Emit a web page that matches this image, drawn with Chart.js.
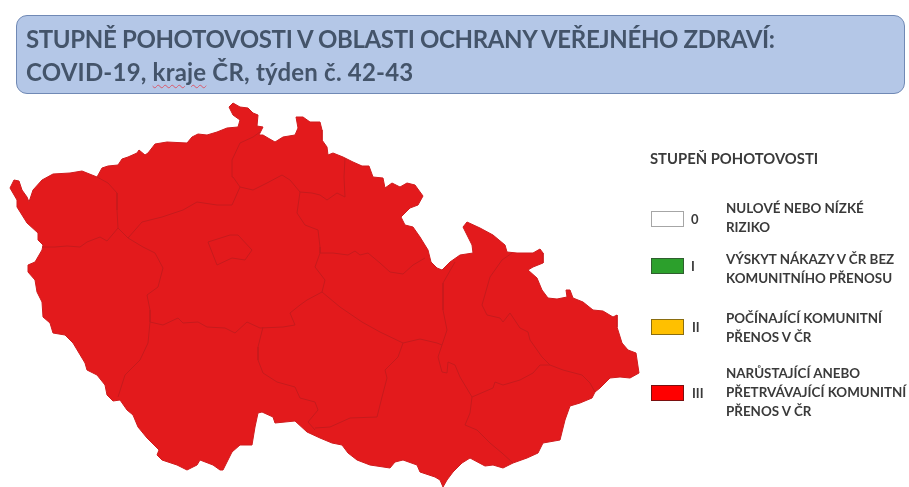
<!DOCTYPE html>
<html lang="cs">
<head>
<meta charset="utf-8">
<title>Stupně pohotovosti</title>
<script src="https://cdn.jsdelivr.net/npm/chart.js@4"></script>
<style>
  html, body { margin: 0; padding: 0; background: #fff; }
  #page { position: relative; width: 909px; height: 487px; overflow: hidden; font-family: Lato, "Open Sans", sans-serif; font-weight: 700; }
  #myChart { position: absolute; left: 0; top: 0; filter: blur(0.6px); }
  #box { position: absolute; left: 16px; top: 15px; width: 887px; height: 77px; background: #b4c7e7; border: 1.5px solid #7089b5; border-radius: 11px; }
  .head { position: absolute; left: 26px; color: #44546a; font-size: 24px; white-space: nowrap; filter: blur(0.6px); }
  .head u { text-decoration: underline wavy #d9586a 1px; text-underline-offset: 3px; }
  .txt { position: absolute; color: #3a3a3a; font-size: 13px; white-space: nowrap; line-height: 14px; filter: blur(0.5px); }
  .swatch { position: absolute; left: 651px; width: 31px; height: 14px; border: 1px solid #444; filter: blur(0.4px); }
</style>
</head>
<body>
<div id="page">
  <canvas id="myChart" width="909" height="487"></canvas>
  <div id="box"></div>
  <div class="head" style="top:24px;letter-spacing:-0.35px">STUPNĚ POHOTOVOSTI V OBLASTI OCHRANY VEŘEJNÉHO ZDRAVÍ:</div>
  <div class="head" style="top:57px;letter-spacing:0.2px">COVID-19, <u>kraje</u> ČR, týden č. 42-43</div>
  <div class="txt" style="left:650px;top:151px;font-size:14.8px">STUPEŇ POHOTOVOSTI</div>
</div>
<script>
// legend
const levels = ["0", "I", "II", "III"];
const levelColors = ["#ffffff", "#2ca02c", "#ffc000", "#ff0000"];
const levelBorders = ["#a6a6a6", "#2f5f2f", "#8a6d10", "#7a1010"];
const levelLabels = [
    ["NULOVÉ NEBO NÍZKÉ", "RIZIKO"],
    ["VÝSKYT NÁKAZY V ČR BEZ", "KOMUNITNÍHO PŘENOSU"],
    ["POČÍNAJÍCÍ KOMUNITNÍ", "PŘENOS V ČR"],
    ["NARŮSTAJÍCÍ ANEBO", "PŘETRVÁVAJÍCÍ KOMUNITNÍ", "PŘENOS V ČR"]
];
const swatchTops = [211, 258, 319, 385];
const labelTops = [199, 250, 309, 364];

// map, in picture pixels
const outline = [
    [10,188],[14,180],[19,181],[22,190],[27,197],[29,202],[33,190],[42,180],[53,174],[70,173],[82,171],[87,173],[97,177],
    [102,168],[108,166],[118,165],[122,159],[128,157],[137,153],[139,150],[145,155],[148,153],[155,144],[167,142],[187,143],
    [192,137],[198,134],[207,135],[217,132],[227,128],[238,127],[240,120],[233,115],[229,107],[233,103],[240,107],[248,108],
    [253,113],[258,115],[257,126],[263,127],[259,135],[263,135],[268,138],[275,142],[283,137],[295,135],[298,128],[296,117],
    [303,117],[310,122],[320,122],[322,130],[322,140],[327,147],[328,155],[333,153],[343,157],[353,162],[362,166],[369,166],
    [373,177],[383,178],[385,188],[392,183],[400,187],[407,183],[415,185],[423,196],[418,205],[410,208],[401,217],[405,225],
    [413,227],[420,237],[428,250],[431,262],[437,268],[442,270],[450,262],[460,255],[473,253],[472,245],[463,227],[467,222],
    [480,228],[493,235],[505,245],[507,252],[517,253],[533,253],[540,249],[543,253],[543,263],[533,267],[528,270],[537,278],
    [542,290],[548,298],[557,299],[567,297],[566,290],[570,290],[573,298],[583,302],[593,310],[603,311],[613,317],[617,315],
    [617,327],[622,343],[628,350],[636,353],[639,373],[630,378],[620,377],[610,378],[600,388],[595,392],[592,398],[580,403],
    [570,406],[565,420],[560,440],[543,443],[538,453],[527,458],[513,463],[503,468],[493,465],[485,466],[470,458],[462,463],
    [453,472],[447,480],[443,487],[440,480],[435,477],[420,472],[417,465],[403,460],[395,462],[390,468],[370,465],[357,460],
    [348,453],[342,445],[332,443],[320,438],[307,432],[295,421],[285,422],[275,423],[273,417],[262,412],[258,413],[255,427],
    [252,445],[240,445],[232,452],[223,470],[220,470],[213,465],[200,460],[197,465],[187,470],[177,465],[162,460],[157,455],
    [159,450],[147,438],[138,427],[133,415],[127,410],[120,400],[113,401],[107,395],[105,385],[97,375],[87,370],[85,363],
    [73,343],[65,335],[53,333],[50,323],[43,317],[42,302],[37,292],[35,280],[28,272],[28,265],[35,262],[42,250],[43,245],
    [38,240],[38,233],[27,223],[17,207],[17,200]
];
const prague = [[208,242],[230,235],[238,235],[252,250],[245,260],[232,258],[217,265],[208,242]];

const borders = [
    // Karlovarský
    [[97,177],[108,183],[117,193],[117,210],[118,228]],
    [[42,247],[55,247],[67,246],[80,247],[87,242],[100,237],[107,241],[118,228]],
    // Ústecký
    [[118,228],[128,238],[142,222],[162,217],[183,210],[197,202],[217,205],[232,205],[240,187]],
    [[240,187],[233,177],[232,160],[240,143],[253,137],[260,132]],
    // Liberecký
    [[240,187],[253,190],[267,183],[282,175],[290,180],[300,192],[312,193],[320,195],[327,200],[337,193],[345,197],[344,177],[345,158]],
    // Středočeský / Královéhradecký
    [[300,192],[297,213],[305,225],[318,230],[320,247],[320,253]],
    // Královéhradecký / Pardubický
    [[320,253],[333,253],[348,255],[355,251],[360,255],[368,253],[380,263],[390,272],[403,274],[413,265],[425,258]],
    // Středočeský / Pardubický
    [[320,253],[315,267],[325,280],[322,292]],
    // Středočeský / Vysočina
    [[322,292],[307,300],[300,305],[290,313],[295,325]],
    // Středočeský / Jihočeský
    [[295,325],[283,327],[260,328],[247,322],[235,333],[225,328],[207,327],[198,322],[183,323],[178,318],[163,325],[150,322]],
    // Plzeňský / Středočeský
    [[128,238],[143,247],[155,253],[163,268],[158,287],[147,295],[150,310],[150,322]],
    // Plzeňský / Jihočeský
    [[150,322],[148,343],[140,360],[125,375],[118,397]],
    // Jihočeský / Vysočina
    [[263,327],[258,347],[258,360],[263,373],[277,382],[295,387],[300,398],[315,402],[318,410],[308,422],[315,430]],
    // Vysočina / Jihomoravský
    [[315,428],[330,427],[350,418],[377,417],[382,397],[387,378],[385,370],[398,357],[403,343]],
    // Pardubický / Vysočina
    [[322,292],[340,307],[362,322],[380,332],[403,343]],
    // Pardubický / Jihomoravský
    [[403,343],[420,339],[437,343]],
    // Pardubický / Olomoucký
    [[455,262],[443,283],[443,310],[447,330],[442,345],[437,343]],
    // Olomoucký / Jihomoravský
    [[442,345],[438,357],[442,372],[447,373],[448,362],[455,365],[460,377],[472,397]],
    // Jihomoravský / Zlínský
    [[472,397],[470,413],[465,425],[477,430],[490,443],[502,453],[513,463]],
    // Olomoucký / Zlínský
    [[472,397],[493,388],[495,382],[503,385],[520,380],[533,373],[540,365],[550,365]],
    // Moravskoslezský / Zlínský
    [[550,365],[563,370],[582,375],[590,383],[595,392]],
    // Olomoucký / Moravskoslezský
    [[512,253],[502,260],[490,277],[482,305],[487,315],[500,318],[503,322],[510,313],[520,328],[528,332],[530,340],[542,357],[550,365]]
];

const mapFill = "#e31a1c";
const borderColor = "#c61a1c";

const page = document.getElementById('page');

function addDiv(cls, css, text) {
    let d = document.createElement('div');
    d.className = cls;
    d.style.cssText = css;
    d.textContent = text;
    page.append(d);
}

levels.forEach((lev, i) => {
    addDiv('swatch', `top:${swatchTops[i]}px;background:${levelColors[i]};border-color:${levelBorders[i]}`, '');
    addDiv('txt', `left:${lev.length > 1 ? 692 : 691}px;top:${swatchTops[i] + 1}px`, lev);
    addDiv('txt', `left:726px;top:${labelTops[i]}px;line-height:19px;font-size:13.4px;white-space:pre`, levelLabels[i].join('\n'));
});

const toPoints = line => line.map(p => ({x: p[0], y: p[1]}));

// order: the fill has to go under every border line
const datasets = [{
    label: 'ČR',
    data: toPoints(outline.concat([outline[0]])),
    showLine: true,
    fill: 'shape',
    backgroundColor: mapFill,
    borderColor: '#d01a1c',
    borderWidth: 1,
    pointRadius: 0,
    order: 2
}, {
    label: 'Praha',
    data: toPoints(prague),
    showLine: true,
    borderColor: borderColor,
    borderWidth: 1,
    pointRadius: 0,
    order: 1
}];

borders.forEach((line, i) => {
    datasets.push({
        label: 'hranice ' + i,
        data: toPoints(line),
        showLine: true,
        borderColor: borderColor,
        borderWidth: 1,
        pointRadius: 0,
        order: 1
    });
});

new Chart(document.getElementById('myChart').getContext('2d'), {
    type: 'scatter',
    data: {datasets: datasets},
    options: {
        responsive: false,
        animation: false,
        layout: {padding: 0},
        plugins: {legend: {display: false}, tooltip: {enabled: false}},
        scales: {
            x: {display: false, min: 0, max: 909},
            y: {display: false, min: 0, max: 487, reverse: true}
        }
    }
});
</script>
</body>
</html>
